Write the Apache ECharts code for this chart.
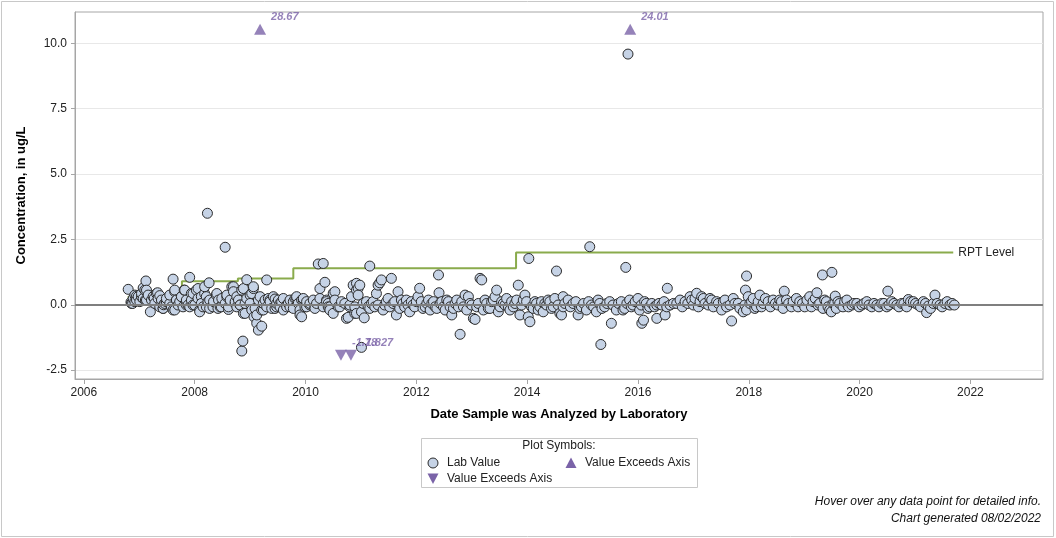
<!DOCTYPE html>
<html><head><meta charset="utf-8">
<script src="https://cdn.jsdelivr.net/npm/echarts@6/dist/echarts.min.js"></script>
<style>html,body{margin:0;padding:0;background:#fff}#c{width:1056px;height:538px}</style>
</head><body><div id="c"></div>
<script>
// ---- tick labels ----
const yearTicks = [2006, 2008, 2010, 2012, 2014, 2016, 2018, 2020, 2022];
const concTicks = [-2.5, 0, 2.5, 5, 7.5, 10];

// ---- lab values [decimal year, concentration ug/L] ----
const lab2006to2010 = [
 [2006.80,0.59],[2006.85,0.10],[2006.88,0.05],[2006.92,0.12],[2006.95,0.33],[2007.04,0.30],[2007.07,0.64],
 [2007.11,0.18],[2007.13,0.56],[2007.12,0.91],[2007.20,-0.27],[2007.27,0.25],[2007.33,0.46],[2007.37,0.35],
 [2007.44,0.00],[2007.43,-0.14],[2007.49,0.11],[2007.55,0.05],[2007.61,0.98],[2007.64,0.50],[2007.64,-0.20],
 [2007.67,0.18],[2007.76,0.31],[2007.81,0.56],[2007.85,-0.01],[2007.91,1.05],[2007.94,0.43],[2007.97,-0.01],
 [2008.06,0.62],[2008.09,-0.20],[2008.12,0.31],[2008.18,0.43],[2008.21,-0.08],[2008.23,3.50],[2008.26,0.84],
 [2008.27,0.18],[2008.33,-0.08],[2008.39,0.37],[2008.42,-0.14],[2008.48,-0.08],[2008.55,2.20],[2008.58,0.31],
 [2008.61,-0.18],[2008.70,0.69],[2008.73,0.05],[2008.76,0.31],[2008.82,-0.01],[2008.85,-1.77],[2008.87,-1.39],
 [2008.88,0.62],[2008.91,-0.33],[2008.94,0.96],[2009.00,0.37],[2009.03,-0.20],[2009.06,0.62],[2009.07,-0.46],
 [2009.12,-0.71],[2009.15,-0.97],[2009.21,-0.82],[2009.24,-0.20],[2009.30,0.95],[2009.36,0.18],[2009.39,-0.14],
 [2009.45,0.22],[2009.48,-0.08],[2009.54,0.05],[2009.60,-0.20],[2009.66,-0.01],[2009.72,-0.08],[2009.78,0.12],
 [2009.84,0.24],[2009.90,-0.20],[2009.93,-0.46],[2009.96,0.18],[2010.02,-0.08],[2010.08,-0.01],[2010.17,-0.08],
 [2010.23,1.56],[2010.26,0.62],[2010.32,1.58],[2010.35,0.86],[2010.41,0.05],[2010.44,-0.08],[2010.50,-0.33],
 [2010.53,0.50],[2010.59,-0.08],[2010.74,-0.52],[2010.80,-0.08],[2010.86,0.75],[2010.89,-0.33],[2010.92,0.56]
];
const labDense2006to2010 = [
 [2006.86,0.05],[2006.89,0.24],[2006.92,0.37],[2006.95,0.18],[2006.98,0.31],[2007.01,0.12],[2007.04,0.43],
 [2007.07,0.24],[2007.10,0.56],[2007.13,0.18],[2007.16,0.37],[2007.22,0.18],[2007.25,0.31],[2007.28,0.05],
 [2007.31,0.43],[2007.34,0.24],[2007.37,-0.08],[2007.40,0.18],[2007.43,-0.14],[2007.46,0.05],[2007.49,0.24],
 [2007.55,0.37],[2007.58,-0.08],[2007.61,-0.20],[2007.64,0.56],[2007.67,0.18],[2007.70,-0.01],[2007.73,0.12],
 [2007.76,0.31],[2007.79,-0.08],[2007.82,0.56],[2007.85,0.18],[2007.88,-0.01],[2007.91,-0.08],[2007.94,0.18],
 [2007.97,0.43],[2008.00,-0.01],[2008.03,0.56],[2008.06,0.24],[2008.09,-0.27],[2008.12,0.05],[2008.15,-0.08],
 [2008.18,0.69],[2008.21,0.31],[2008.24,0.12],[2008.27,-0.14],[2008.34,0.12],[2008.40,0.43],[2008.43,0.18],
 [2008.46,-0.08],[2008.49,0.24],[2008.55,0.05],[2008.58,0.37],[2008.61,-0.08],[2008.64,0.18],[2008.67,0.69],
 [2008.70,0.50],[2008.73,0.12],[2008.76,-0.08],[2008.79,0.18],[2008.82,-0.01],[2008.85,0.56],[2008.88,-0.33],
 [2008.91,0.05],[2008.94,0.24],[2009.00,0.05],[2009.03,0.43],[2009.06,0.69],[2009.09,-0.14],[2009.12,-0.39],
 [2009.15,0.18],[2009.18,0.31],[2009.21,-0.20],[2009.24,0.05],[2009.27,0.18],[2009.30,-0.08],[2009.33,0.24],
 [2009.36,0.12],[2009.42,0.31],[2009.45,-0.14],[2009.48,0.05],[2009.51,0.18],[2009.54,-0.08],[2009.57,0.12],
 [2009.60,0.24],[2009.66,-0.08],[2009.69,0.05],[2009.72,0.18],[2009.78,-0.14],[2009.81,0.24],[2009.84,0.31],
 [2009.87,0.05],[2009.90,-0.39],[2009.93,0.18],[2009.96,0.24],[2009.99,-0.08],[2010.02,0.12],[2010.08,0.05],
 [2010.14,0.18],[2010.17,-0.14],[2010.20,0.05],[2010.26,0.24],[2010.32,-0.08],[2010.38,0.18],[2010.41,-0.08]
];
const lab2010to2014 = [
 [2010.38,0.12],[2010.50,0.44],[2010.53,0.18],[2010.44,-0.20],[2010.62,-0.08],[2010.71,0.05],[2010.77,-0.48],
 [2010.83,0.31],[2010.92,0.82],[2010.95,0.63],[2010.98,0.75],[2010.95,0.37],[2010.89,-0.08],[2010.92,-0.33],
 [2011.01,-1.63],[2011.01,-0.27],[2011.06,-0.50],[2011.10,0.12],[2011.13,-0.08],[2011.16,1.48],[2011.19,0.05],
 [2011.25,-0.08],[2011.28,0.43],[2011.31,0.75],[2011.34,0.84],[2011.37,0.95],[2011.31,-0.01],[2011.40,-0.20],
 [2011.43,-0.01],[2011.49,0.24],[2011.55,1.01],[2011.61,0.12],[2011.64,-0.39],[2011.67,0.50],[2011.73,0.18],
 [2011.79,-0.08],[2011.85,-0.01],[2011.88,-0.27],[2011.91,0.12],[2011.97,-0.08],[2012.03,0.31],[2012.06,0.63],
 [2012.09,0.12],[2012.16,-0.08],[2012.22,0.18],[2012.25,-0.20],[2012.28,0.05],[2012.34,-0.08],[2012.40,1.14],
 [2012.41,0.46],[2012.46,0.12],[2012.52,-0.20],[2012.55,0.18],[2012.61,-0.08],[2012.64,-0.39],[2012.70,0.05],
 [2012.76,-0.08],[2012.79,-1.13],[2012.82,0.12],[2012.88,0.37],[2012.91,-0.20],[2012.94,0.31],[2013.00,-0.01],
 [2013.03,-0.52],[2013.06,-0.56],[2013.12,0.05],[2013.15,1.01],[2013.18,0.95],[2013.21,-0.20],[2013.24,0.18],
 [2013.30,-0.14],[2013.36,0.12],[2013.42,0.31],[2013.45,0.56],[2013.48,-0.27],[2013.54,0.12],[2013.60,-0.01],
 [2013.63,0.24],[2013.69,-0.20],[2013.75,-0.08],[2013.81,0.18],[2013.84,0.75],[2013.87,-0.39],[2013.90,-0.01],
 [2013.96,0.37],[2013.99,0.12],[2014.02,-0.46],[2014.03,1.77],[2014.05,-0.65],[2014.08,-0.08],[2014.14,0.12],
 [2014.20,-0.20],[2014.26,0.12],[2014.29,-0.27],[2014.35,-0.01],[2014.38,0.18],[2014.44,-0.14],[2014.50,0.24],
 [2014.53,1.29],[2014.56,-0.01],[2014.59,-0.33]
];
const labDense2010to2014 = [
 [2010.65,0.12],[2010.80,-0.01],[2011.04,0.05],[2011.16,-0.14],[2011.22,0.12],[2011.46,0.12],[2011.52,-0.08],
 [2011.58,0.05],[2011.70,-0.14],[2011.76,0.05],[2011.82,0.18],[2011.94,-0.01],[2012.00,0.12],[2012.12,-0.14],
 [2012.19,0.05],[2012.31,0.12],[2012.37,-0.14],[2012.43,0.05],[2012.49,-0.08],[2012.58,0.12],[2012.67,-0.14],
 [2012.73,0.18],[2012.85,-0.08],[2012.97,0.05],[2013.09,-0.08],[2013.27,0.05],[2013.33,-0.14],[2013.39,0.18],
 [2013.51,-0.08],[2013.57,0.05],[2013.66,-0.08],[2013.72,0.12],[2013.78,0.05],[2013.93,0.18],[2014.11,-0.14],
 [2014.17,0.05],[2014.23,-0.08],[2014.32,0.05],[2014.41,0.12],[2014.47,-0.08]
];
const lab2014to2021 = [
 [2014.65,-0.08],[2014.65,0.31],[2014.62,-0.39],[2014.74,0.18],[2014.83,0.05],[2014.92,-0.39],[2014.98,-0.08],
 [2015.07,-0.20],[2015.13,2.22],[2015.16,-0.01],[2015.25,-0.27],[2015.31,0.05],[2015.33,-1.52],[2015.40,-0.08],
 [2015.49,0.12],[2015.52,-0.71],[2015.61,-0.20],[2015.70,0.12],[2015.76,-0.14],[2015.78,1.43],[2015.82,9.59],
 [2015.85,0.18],[2015.91,-0.01],[2016.00,0.24],[2016.03,-0.20],[2016.07,-0.71],[2016.10,-0.59],[2016.15,0.05],
 [2016.21,-0.08],[2016.34,-0.52],[2016.34,-0.01],[2016.43,-0.01],[2016.49,-0.39],[2016.52,-0.08],[2016.53,0.63],
 [2016.64,0.05],[2016.76,0.18],[2016.85,0.12],[2016.94,0.31],[2017.00,-0.01],[2017.06,0.44],[2017.12,0.12],
 [2017.18,0.24],[2017.27,-0.01],[2017.33,0.18],[2017.42,0.12],[2017.51,-0.20],[2017.57,0.18],[2017.66,-0.01],
 [2017.69,-0.62],[2017.72,0.24],[2017.81,0.05],[2017.90,-0.27],[2017.93,-0.01],[2017.94,0.56],[2017.96,1.10],
 [2017.99,0.31],[2018.05,0.12],[2018.14,-0.08],[2018.20,0.37],[2018.26,0.05],[2018.35,0.12],[2018.44,0.18],
 [2018.53,-0.01],[2018.59,0.12],[2018.64,0.52],[2018.68,0.18],[2018.77,-0.08],[2018.86,0.24],[2018.92,0.12],
 [2019.01,-0.08],[2019.10,0.31],[2019.16,0.12],[2019.23,0.46],[2019.25,-0.01],[2019.33,1.14],[2019.34,-0.14],
 [2019.40,0.12],[2019.46,-0.20],[2019.50,1.24],[2019.52,0.05],[2019.56,0.33],[2019.61,0.12],[2019.70,-0.08],
 [2019.77,0.18],[2019.86,-0.01],[2019.95,0.05],[2020.04,-0.01],[2020.13,0.12],[2020.22,-0.08],[2020.31,-0.01],
 [2020.40,0.05],[2020.49,-0.08],[2020.51,0.52],[2020.58,0.12],[2020.67,-0.01],[2020.76,0.05],[2020.85,-0.08],
 [2020.88,0.20],[2020.97,0.12],[2021.06,-0.01],[2021.15,0.12],[2021.21,-0.30],[2021.24,-0.05],[2021.33,0.05],
 [2021.36,0.37],[2021.45,-0.01],[2021.54,0.05],[2021.63,-0.01],[2021.71,-0.01]
];
const labDense2014to2021 = [
 [2014.68,0.05],[2014.78,-0.08],[2014.88,0.12],[2014.95,-0.14],[2015.02,0.05],[2015.11,0.12],[2015.20,-0.08],
 [2015.28,0.18],[2015.35,-0.14],[2015.44,0.05],[2015.55,-0.01],[2015.65,0.05],[2015.73,-0.20],[2015.80,0.05],
 [2015.88,-0.08],[2015.95,0.12],[2016.06,-0.01],[2016.12,0.12],[2016.18,-0.14],[2016.25,0.05],[2016.30,-0.08],
 [2016.38,0.05],[2016.47,0.12],[2016.58,-0.01],[2016.70,0.05],[2016.80,-0.08],[2016.90,0.05],[2016.97,0.18],
 [2017.03,0.24],[2017.09,-0.08],[2017.15,0.31],[2017.21,0.05],[2017.30,0.24],[2017.36,-0.08],[2017.45,0.05],
 [2017.54,0.12],[2017.60,-0.08],[2017.75,0.05],[2017.84,-0.14],[2017.96,-0.20],[2018.02,0.05],[2018.08,0.24],
 [2018.11,-0.14],[2018.17,0.12],[2018.23,-0.08],[2018.30,0.24],[2018.39,-0.08],[2018.48,0.05],[2018.56,0.18],
 [2018.62,-0.14],[2018.72,0.05],[2018.80,0.12],[2018.89,-0.08],[2018.97,0.05],[2019.05,0.18],[2019.13,-0.08],
 [2019.20,0.24],[2019.28,0.05],[2019.37,0.18],[2019.43,-0.08],[2019.49,-0.27],[2019.55,0.05],[2019.58,-0.14],
 [2019.64,0.05],[2019.73,0.12],[2019.80,-0.08],[2019.90,0.05],[2019.99,-0.08],[2020.08,0.05],[2020.17,-0.01],
 [2020.26,0.05],[2020.35,-0.08],[2020.44,0.05],[2020.53,-0.01],[2020.62,0.05],[2020.71,-0.08],[2020.80,0.05],
 [2020.92,0.12],[2021.01,0.05],[2021.10,-0.08],[2021.19,0.05],[2021.28,-0.14],[2021.40,0.05],[2021.49,-0.08],
 [2021.58,0.12],[2021.67,0.05]
];

// ---- values exceeding the axis (plotted at fixed position, labelled with true value) ----
const aboveDates = [2009.18, 2015.86];
const abovePlotAt = [10.54, 10.54];
const aboveLabels = ['28.67', '24.01'];
const belowDates = [2010.64, 2010.82];
const belowPlotAt = [-1.93, -1.93];
const belowLabels = ['-1.78', '-1.827'];

// ---- reporting level step line ----
const rptDates = [2006.79, 2007.77, 2008.78, 2009.78, 2013.80, 2021.69];
const rptLevels = [0.3, 0.9, 1.0, 1.4, 2.0, 2.0];

const labAll = [].concat(lab2006to2010, labDense2006to2010, lab2010to2014, labDense2010to2014, lab2014to2021, labDense2014to2021)
  .sort((a, b) => a[0] - b[0]);

const FONT = '"Liberation Sans", Arial, sans-serif';
const PURPLE = '#7a63a8';
const chart = echarts.init(document.getElementById('c'), null, {renderer: 'canvas'});

const triLabel = (texts) => ({
  show: true, position: [17, -12], formatter: p => texts[p.dataIndex],
  color: PURPLE, fontFamily: FONT, fontSize: 11, fontWeight: 'bold', fontStyle: 'italic'
});

chart.setOption({
  animation: false,
  backgroundColor: '#fff',
  grid: {left: 75, top: 12, right: 13, bottom: 159, show: true, borderColor: '#a6a6a6', borderWidth: 1},
  xAxis: {
    type: 'value', min: 2005.84, max: 2023.31,
    name: 'Date Sample was Analyzed by Laboratory', nameLocation: 'middle', nameGap: 29,
    nameTextStyle: {fontFamily: FONT, fontSize: 13, fontWeight: 'bold', color: '#000'},
    axisLine: {show: true, onZero: false, lineStyle: {color: '#a6a6a6'}},
    axisTick: {show: true, length: 5, customValues: yearTicks, lineStyle: {color: '#a6a6a6'}},
    axisLabel: {customValues: yearTicks, formatter: v => String(Math.round(v)), color: '#222', fontFamily: FONT, fontSize: 12, margin: 8},
    splitLine: {show: false}
  },
  yAxis: {
    type: 'value', min: -2.84, max: 11.2,
    name: 'Concentration, in ug/L', nameLocation: 'middle', nameGap: 47,
    nameTextStyle: {fontFamily: FONT, fontSize: 13, fontWeight: 'bold', color: '#000'},
    axisLine: {show: true, onZero: false, lineStyle: {color: '#a6a6a6'}},
    axisTick: {show: true, length: 4, customValues: concTicks, lineStyle: {color: '#a6a6a6'}},
    axisLabel: {customValues: concTicks, formatter: v => v.toFixed(1), color: '#222', fontFamily: FONT, fontSize: 12, margin: 8},
    splitLine: {show: true, lineStyle: {color: '#e8e8e8', width: 1}}
  },
  series: [
    {
      name: 'RPT Level', type: 'line', step: 'end', z: 2, showSymbol: false, symbol: 'none',
      data: rptDates.map((d, i) => [d, rptLevels[i]]),
      lineStyle: {color: '#8aab4c', width: 2},
      endLabel: {show: true, formatter: 'RPT Level', color: '#222', fontFamily: FONT, fontSize: 12, distance: 5},
      markLine: {
        silent: true, symbol: ['none', 'none'], label: {show: false},
        lineStyle: {color: '#7f7f7f', width: 2, type: 'solid'},
        data: [{yAxis: 0}]
      }
    },
    {
      name: 'Lab Value', type: 'scatter', z: 3, symbol: 'circle', symbolSize: 10,
      data: labAll,
      itemStyle: {color: '#c6d3e6', borderColor: '#2a2a2a', borderWidth: 1, opacity: 1}
    },
    {
      name: 'Value Exceeds Axis', type: 'scatter', z: 4, symbol: 'triangle', symbolSize: [12, 11],
      data: aboveDates.map((d, i) => [d, abovePlotAt[i]]),
      itemStyle: {color: PURPLE},
      label: triLabel(aboveLabels)
    },
    {
      name: 'Value Exceeds Axis ', type: 'scatter', z: 4, symbol: 'triangle', symbolRotate: 180, symbolSize: [12, 11],
      data: belowDates.map((d, i) => [d, belowPlotAt[i]]),
      itemStyle: {color: PURPLE},
      label: triLabel(belowLabels)
    }
  ],
  graphic: [
    {type: 'rect', shape: {x: 1.5, y: 1.5, width: 1052, height: 535}, style: {fill: 'none', stroke: '#c8c8c8', lineWidth: 1}, silent: true, z: -1},
    {type: 'rect', shape: {x: 421.5, y: 438.5, width: 276, height: 49}, style: {fill: '#fff', stroke: '#c8c8c8', lineWidth: 1}, silent: true},
    {type: 'text', x: 559, y: 446, style: {text: 'Plot Symbols:', fill: '#222', font: '12px ' + FONT, textAlign: 'center', textVerticalAlign: 'middle'}},
    {type: 'circle', shape: {cx: 433, cy: 463, r: 5}, style: {fill: '#c6d3e6', stroke: '#2a2a2a', lineWidth: 1}},
    {type: 'text', x: 447, y: 463, style: {text: 'Lab Value', fill: '#222', font: '12px ' + FONT, textAlign: 'left', textVerticalAlign: 'middle'}},
    {type: 'polygon', shape: {points: [[571, 457.5], [576.5, 468], [565.5, 468]]}, style: {fill: PURPLE}},
    {type: 'text', x: 585, y: 463, style: {text: 'Value Exceeds Axis', fill: '#222', font: '12px ' + FONT, textAlign: 'left', textVerticalAlign: 'middle'}},
    {type: 'polygon', shape: {points: [[427.5, 473.5], [438.5, 473.5], [433, 484]]}, style: {fill: PURPLE}},
    {type: 'text', x: 447, y: 479, style: {text: 'Value Exceeds Axis', fill: '#222', font: '12px ' + FONT, textAlign: 'left', textVerticalAlign: 'middle'}},
    {type: 'text', x: 1041, y: 502, style: {text: 'Hover over any data point for detailed info.', fill: '#111', font: 'italic 12px ' + FONT, textAlign: 'right', textVerticalAlign: 'middle'}},
    {type: 'text', x: 1041, y: 519, style: {text: 'Chart generated 08/02/2022', fill: '#111', font: 'italic 12px ' + FONT, textAlign: 'right', textVerticalAlign: 'middle'}}
  ]
});
</script>
</body></html>
